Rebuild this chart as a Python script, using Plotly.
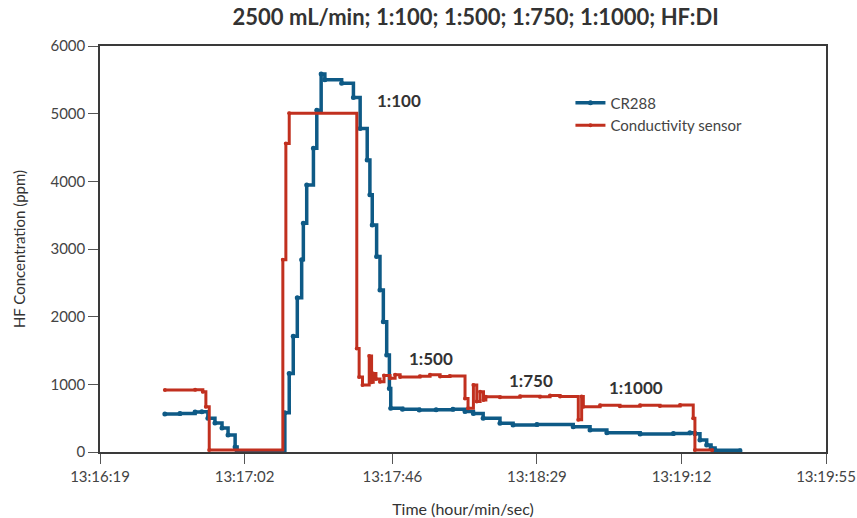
import plotly.graph_objects as go

DAY = "2023-01-01 "

# CR288 (blue) step data
cr288_time = ["13:16:38.3", "13:16:42.8", "13:16:47.3", "13:16:49.3", "13:16:51.1", "13:16:53.2",
              "13:16:55.3", "13:16:57.1", "13:16:59.2", "13:16:59.8", "13:17:14.0", "13:17:15.3",
              "13:17:16.5", "13:17:17.7", "13:17:19.0", "13:17:19.5", "13:17:20.5", "13:17:22.5",
              "13:17:23.5", "13:17:24.8", "13:17:25.9", "13:17:30.9", "13:17:34.4", "13:17:36.4",
              "13:17:38.5", "13:17:39.3", "13:17:40.0", "13:17:41.3", "13:17:42.3", "13:17:43.3",
              "13:17:44.3", "13:17:45.1", "13:17:45.5", "13:17:49.0", "13:17:54.0", "13:17:59.0",
              "13:18:04.0", "13:18:07.6", "13:18:10.1", "13:18:13.0", "13:18:18.0", "13:18:21.9",
              "13:18:29.0", "13:18:39.8", "13:18:44.8", "13:18:49.8", "13:18:59.7", "13:19:09.6",
              "13:19:14.5", "13:19:16.0", "13:19:17.5", "13:19:19.5", "13:19:20.8", "13:19:22.0",
              "13:19:29.4"]
cr288_ppm = [560, 570, 590, 595, 500, 430,
             355, 250, 75, 20, 580, 1160,
             1710, 2280, 2840, 3380, 3945, 4490,
             5050, 5585, 5500, 5450, 5240, 4780,
             4315, 3800, 3355, 2890, 2395, 1925,
             1435, 940, 645, 630, 620, 625,
             630, 600, 570, 500, 425, 400,
             405, 375, 325, 285, 265, 275,
             285, 270, 177, 103, 60, 25,
             20]

# Conductivity sensor (red) step data
cond_time = ["13:16:38.3", "13:16:47.3", "13:16:49.6", "13:16:50.5", "13:16:51.5", "13:17:13.4",
             "13:17:14.3", "13:17:15.3", "13:17:35.4", "13:17:36.1", "13:17:37.1", "13:17:39.1",
             "13:17:39.8", "13:17:40.3", "13:17:41.1", "13:17:42.3", "13:17:43.5", "13:17:45.3",
             "13:17:46.8", "13:17:48.3", "13:17:54.2", "13:17:57.2", "13:18:00.2", "13:18:03.1",
             "13:18:07.6", "13:18:08.5", "13:18:10.1", "13:18:11.1", "13:18:12.1", "13:18:13.1",
             "13:18:13.8", "13:18:18.0", "13:18:24.0", "13:18:29.9", "13:18:32.9", "13:18:35.9",
             "13:18:41.3", "13:18:42.3", "13:18:42.8", "13:18:47.8", "13:18:53.7", "13:18:59.7",
             "13:19:05.6", "13:19:11.6", "13:19:15.5", "13:19:16.0", "13:19:21.1"]
cond_ppm = [915, 920, 890, 670, 30, 2840,
            4560, 5005, 1530, 1110, 990, 1420,
            1030, 1160, 1080, 1040, 1130, 1090,
            1140, 1110, 1120, 1140, 1115, 1125,
            790, 645, 990, 745, 890, 770,
            815, 810, 825, 815, 835, 820,
            475, 820, 670, 690, 675, 690,
            680, 695, 500, 30, 25]

tick_labels = ["13:16:19", "13:17:02", "13:17:46", "13:18:29", "13:19:12", "13:19:55"]
y_ticks = [0, 1000, 2000, 3000, 4000, 5000, 6000]

ann_text = ["1:100", "1:500", "1:750", "1:1000"]
ann_time = ["13:17:48.0", "13:17:57.5", "13:18:27.2", "13:18:58.5"]
ann_ppm = [5190, 1375, 1050, 960]

BLUE = "#0e5a86"
RED = "#c1301f"
FONT = "Lato, 'Open Sans', sans-serif"

fig = go.Figure()
fig.add_trace(go.Scatter(
    x=[DAY + t for t in cr288_time], y=cr288_ppm, name="CR288",
    mode="lines+markers", line=dict(color=BLUE, width=3.5, shape="hv"),
    marker=dict(color=BLUE, size=5)))
fig.add_trace(go.Scatter(
    x=[DAY + t for t in cond_time], y=cond_ppm, name="Conductivity sensor",
    mode="lines+markers", line=dict(color=RED, width=3, shape="hv"),
    marker=dict(color=RED, size=4)))

for txt, t, v in zip(ann_text, ann_time, ann_ppm):
    fig.add_annotation(x=DAY + t, y=v, text="<b>" + txt + "</b>", showarrow=False,
                       font=dict(size=17, color="#333333", family=FONT))

fig.update_layout(
    width=857, height=518,
    margin=dict(l=100, r=31, t=46, b=66, autoexpand=False),
    paper_bgcolor="white", plot_bgcolor="white",
    font=dict(family=FONT, color="#444444", size=15),
    title=dict(text="<b>2500 mL/min; 1:100; 1:500; 1:750; 1:1000; HF:DI</b>",
               x=0.555, xanchor="center", y=0.967, yanchor="middle",
               font=dict(size=22, color="#333333", family=FONT)),
    legend=dict(x=0.648, y=0.9, xanchor="left", yanchor="top",
                bgcolor="rgba(0,0,0,0)", font=dict(size=15, color="#444444"),
                tracegroupgap=0, itemwidth=30),
    showlegend=True,
)
fig.update_xaxes(
    type="date", range=[DAY + tick_labels[0], DAY + tick_labels[-1]],
    tickvals=[DAY + t for t in tick_labels], ticktext=tick_labels, automargin=False,
    showgrid=False, zeroline=False, showline=True, mirror=True,
    linecolor="#3a3a3a", linewidth=1.5, ticks="outside", ticklen=10, tickcolor="#555555",
    title=dict(text="Time (hour/min/sec)", font=dict(size=16, color="#333333"), standoff=22),
    tickfont=dict(size=15, color="#444444"))
fig.update_yaxes(
    range=[0, 6000], tickvals=y_ticks, automargin=False,
    showgrid=False, zeroline=False, showline=True, mirror=True,
    linecolor="#3a3a3a", linewidth=1.5, ticks="outside", ticklen=10, tickcolor="#555555",
    title=dict(text="HF Concentration (ppm)", font=dict(size=15, color="#333333"), standoff=21),
    tickfont=dict(size=15, color="#444444"))

fig.write_html("out.html", config={"displayModeBar": False},
               post_script="document.body.style.margin='0';")
